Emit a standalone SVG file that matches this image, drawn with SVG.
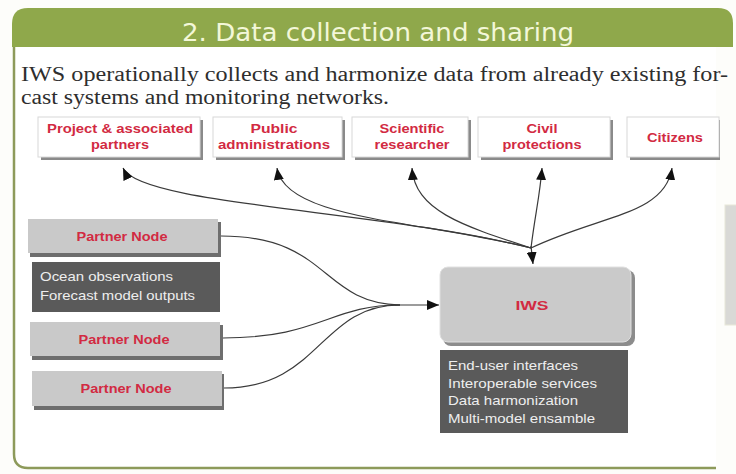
<svg xmlns="http://www.w3.org/2000/svg" width="736" height="474" viewBox="0 0 736 474">
<defs>
<style>
.body{font-family:"Liberation Serif",serif;font-size:20px;fill:#2e2e2e}
.title{font-family:"DejaVu Sans","Liberation Sans",sans-serif;font-size:24px;fill:#f3f7d8}
.lbl{font-family:"Liberation Sans",Arial,sans-serif;font-size:13px;font-weight:bold;fill:#d22a42;text-anchor:middle}
.dtxt{font-family:"Liberation Sans",Arial,sans-serif;font-size:13px;fill:#eeeeee}
.wbox{fill:#ffffff;stroke:#d8d8d8;stroke-width:1}
.wsh{fill:#8a8a8a}
.gbox{fill:#c9c9c9}
.gsh{fill:#6e6e6e}
.dbox{fill:#5a5a5a}
.con{fill:none;stroke:#3a3a3a;stroke-width:1.2}
</style>
<marker id="ah" viewBox="0 0 12 10" refX="12" refY="5" markerWidth="12" markerHeight="10" markerUnits="userSpaceOnUse" orient="auto">
<path d="M0,0 L12,5 L0,10 Z" fill="#111"/>
</marker>
</defs>
<rect x="0" y="0" width="736" height="474" fill="#fdfdfa"/>
<!-- frame -->
<g id="frame">
<path d="M14,40 L14,454 Q14,468 28,468 L716,468 L716,40 Z" fill="#ffffff"/>
<path d="M14,40 L14,454 Q14,468 28,468 L716,468" fill="none" stroke="#8d9a5a" stroke-width="2.5"/>
<path d="M12,47 L12,24 Q12,8 28,8 L718,8 Q733,8 733,23 L733,47 Z" fill="#8fa84b"/>
<text class="title" x="378" y="41" text-anchor="middle" textLength="392" lengthAdjust="spacingAndGlyphs">2. Data collection and sharing</text>
<text class="body" x="21" y="81" textLength="707" lengthAdjust="spacingAndGlyphs">IWS operationally collects and harmonize data from already existing for-</text>
<text class="body" x="21" y="104" textLength="368" lengthAdjust="spacingAndGlyphs">cast systems and monitoring networks.</text>
<rect x="725" y="205" width="14" height="120" fill="#d9d9d6" stroke="#e8e8d8" stroke-width="1"/>
</g>
<!-- top nodes -->
<g id="n-project">
<rect class="wsh" x="41" y="120" width="162" height="40"/>
<rect class="wbox" x="38" y="117" width="162" height="40"/>
<text class="lbl" x="120" y="133" textLength="146" lengthAdjust="spacingAndGlyphs">Project &amp; associated</text>
<text class="lbl" x="120" y="149" textLength="58" lengthAdjust="spacingAndGlyphs">partners</text>
</g>
<g id="n-public">
<rect class="wsh" x="216" y="120" width="129" height="40"/>
<rect class="wbox" x="213" y="117" width="129" height="40"/>
<text class="lbl" x="274" y="133" textLength="47" lengthAdjust="spacingAndGlyphs">Public</text>
<text class="lbl" x="274" y="149" textLength="112" lengthAdjust="spacingAndGlyphs">administrations</text>
</g>
<g id="n-scientific">
<rect class="wsh" x="355" y="120" width="116" height="40"/>
<rect class="wbox" x="352" y="117" width="116" height="40"/>
<text class="lbl" x="412" y="133" textLength="65" lengthAdjust="spacingAndGlyphs">Scientific</text>
<text class="lbl" x="412" y="149" textLength="75" lengthAdjust="spacingAndGlyphs">researcher</text>
</g>
<g id="n-civil">
<rect class="wsh" x="481" y="120" width="132" height="40"/>
<rect class="wbox" x="478" y="117" width="132" height="40"/>
<text class="lbl" x="542" y="133" textLength="31" lengthAdjust="spacingAndGlyphs">Civil</text>
<text class="lbl" x="542" y="149" textLength="79" lengthAdjust="spacingAndGlyphs">protections</text>
</g>
<g id="n-citizens">
<rect class="wsh" x="630" y="120" width="90" height="40"/>
<rect class="wbox" x="627" y="117" width="92" height="40"/>
<text class="lbl" x="675" y="142" textLength="56" lengthAdjust="spacingAndGlyphs">Citizens</text>
</g>
<!-- left nodes -->
<g id="n-partner1">
<rect class="gsh" x="30" y="222" width="191" height="35"/>
<rect class="gbox" x="28" y="219" width="190" height="34"/>
<text class="lbl" x="122" y="241" textLength="91" lengthAdjust="spacingAndGlyphs">Partner Node</text>
</g>
<g id="n-data1">
<rect class="dbox" x="32" y="262" width="188" height="50"/>
<text class="dtxt" x="40" y="281" textLength="133" lengthAdjust="spacingAndGlyphs">Ocean observations</text>
<text class="dtxt" x="40" y="300" textLength="155" lengthAdjust="spacingAndGlyphs">Forecast model outputs</text>
</g>
<g id="n-partner2">
<rect class="gsh" x="32" y="325" width="191" height="35"/>
<rect class="gbox" x="30" y="322" width="190" height="34"/>
<text class="lbl" x="124" y="344" textLength="91" lengthAdjust="spacingAndGlyphs">Partner Node</text>
</g>
<g id="n-partner3">
<rect class="gsh" x="34" y="374" width="190" height="36"/>
<rect class="gbox" x="32" y="371" width="190" height="35"/>
<text class="lbl" x="126" y="393" textLength="91" lengthAdjust="spacingAndGlyphs">Partner Node</text>
</g>
<!-- IWS -->
<g id="n-iws">
<rect x="443" y="270" width="192" height="76" rx="8" fill="#8c8c8c"/>
<rect x="440" y="267" width="191" height="75" rx="8" fill="#cacaca" stroke="#e0e0e0" stroke-width="1"/>
<text class="lbl" x="532" y="310" textLength="33" lengthAdjust="spacingAndGlyphs">IWS</text>
</g>
<g id="n-iws-services">
<rect class="dbox" x="440" y="350" width="188" height="83"/>
<text class="dtxt" x="448" y="370" textLength="130" lengthAdjust="spacingAndGlyphs">End-user interfaces</text>
<text class="dtxt" x="448" y="388" textLength="149" lengthAdjust="spacingAndGlyphs">Interoperable services</text>
<text class="dtxt" x="448" y="405" textLength="130" lengthAdjust="spacingAndGlyphs">Data harmonization</text>
<text class="dtxt" x="448" y="423" textLength="147" lengthAdjust="spacingAndGlyphs">Multi-model ensamble</text>
</g>
<!-- connectors -->
<g id="connectors">
<path class="con" d="M531,248 C380,210 140,205 123,168" marker-end="url(#ah)"/>
<path class="con" d="M531,248 C420,220 285,220 277,168" marker-end="url(#ah)"/>
<path class="con" d="M531,248 C460,225 415,210 412,168" marker-end="url(#ah)"/>
<path class="con" d="M531,248 C535,215 540,195 542,168" marker-end="url(#ah)"/>
<path class="con" d="M531,248 C600,215 665,215 672,168" marker-end="url(#ah)"/>
<path class="con" d="M531,246 L533,264" marker-end="url(#ah)"/>
<path class="con" d="M221,236 C330,236 320,303 400,305"/>
<path class="con" d="M223,338 C320,338 330,305 400,305"/>
<path class="con" d="M224,388 C320,388 320,305 400,305"/>
<path class="con" d="M395,305 L439,305" marker-end="url(#ah)"/>
</g>
</svg>
